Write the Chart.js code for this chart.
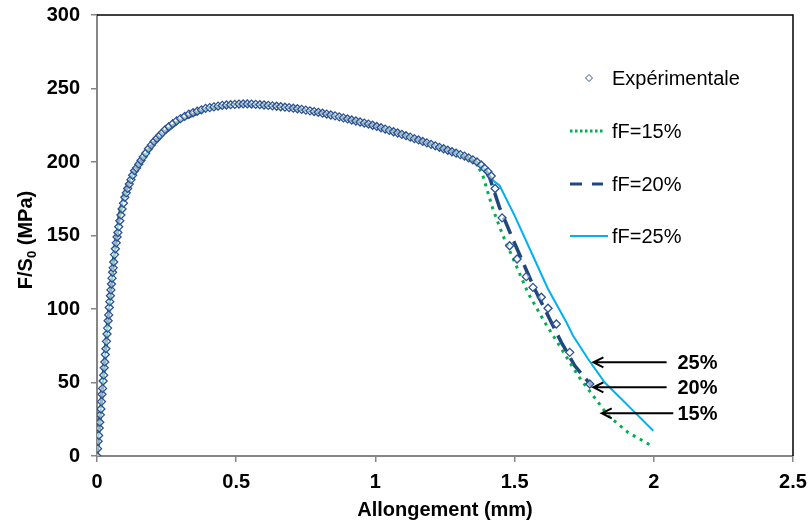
<!DOCTYPE html>
<html>
<head>
<meta charset="utf-8">
<script src="https://cdn.jsdelivr.net/npm/chart.js@4.4.1/dist/chart.umd.min.js"></script>
<style>
html, body { margin: 0; padding: 0; background: #fff; }
#wrap { width: 811px; height: 524px; }
</style>
</head>
<body>
<div id="wrap"><canvas id="myChart" width="811" height="524"></canvas></div>
<script>
// Experimental curve (elongation in mm, F/S0 in MPa)
const expX = [0, 0.002, 0.004, 0.006, 0.008, 0.010, 0.012, 0.014, 0.016, 0.018, 0.020, 0.022, 0.024, 0.026, 0.028,
    0.030, 0.032, 0.034, 0.036, 0.038, 0.040, 0.042, 0.044, 0.046, 0.048, 0.050, 0.052, 0.054, 0.056, 0.058,
    0.060, 0.063, 0.066, 0.069, 0.072, 0.075, 0.078, 0.082, 0.086, 0.090, 0.095, 0.100, 0.105, 0.110, 0.116,
    0.122, 0.128, 0.135, 0.142, 0.150, 0.158, 0.166, 0.175, 0.185, 0.195, 0.205, 0.215, 0.225, 0.235, 0.245,
    0.258, 0.272, 0.286, 0.300, 0.315, 0.330, 0.345, 0.360, 0.375, 0.390, 0.405, 0.420, 0.435, 0.450, 0.465,
    0.480, 0.495, 0.510, 0.525, 0.540, 0.555, 0.570, 0.585, 0.600, 0.615, 0.630, 0.645, 0.660, 0.675, 0.690,
    0.705, 0.720, 0.735, 0.750, 0.765, 0.780, 0.795, 0.810, 0.825, 0.840, 0.855, 0.870, 0.885, 0.900, 0.915,
    0.930, 0.945, 0.960, 0.975, 0.990, 1.005, 1.020, 1.035, 1.050, 1.065, 1.080, 1.095, 1.110, 1.125, 1.140,
    1.155, 1.170, 1.185, 1.200, 1.215, 1.230, 1.245, 1.260, 1.275, 1.290, 1.305, 1.320, 1.335, 1.350, 1.365,
    1.380, 1.392, 1.404, 1.416, 1.430, 1.455, 1.482, 1.509, 1.542, 1.566, 1.596, 1.620, 1.650, 1.698, 1.770];
const expY = [0, 5, 10, 14, 19, 23, 28, 32, 37, 42, 46, 51, 55, 60, 64,
    69, 73, 78, 83, 87, 92, 96, 101, 105, 109, 113, 117, 121, 125, 128,
    132, 137, 141, 145, 149, 152, 156, 160, 164, 168, 172, 176, 179, 182, 185,
    188, 191, 194, 196, 198.5, 201, 203.5, 206, 209, 211.5, 214, 216, 218, 220, 222,
    224, 226, 228, 229.5, 231, 232.5, 233.5, 234.5, 235.5, 236.5, 237, 237.5, 238, 238.5, 238.8,
    239, 239.2, 239.4, 239.5, 239.5, 239.4, 239.2, 239, 238.8, 238.5, 238.2, 237.9, 237.6, 237.3, 237,
    236.6, 236.2, 235.8, 235.3, 234.8, 234.3, 233.8, 233.2, 232.6, 232, 231.4, 230.7, 230, 229.3, 228.6,
    227.9, 227.2, 226.5, 225.8, 225, 224.2, 223.3, 222.4, 221.5, 220.6, 219.7, 218.8, 217.9, 216.9, 215.9,
    215, 214, 213, 212, 211, 210, 209, 208, 207, 206, 205, 204, 202.8, 201.5, 200,
    198, 195.8, 193.5, 190.5, 182, 162, 143, 134, 122, 114.7, 108, 100.5, 89.8, 70.5, 49];

// Model curves: common hardening part, then one softening branch per fF
const hardX = [0, 0.02, 0.04, 0.06, 0.08, 0.09, 0.10, 0.12, 0.15, 0.20, 0.25, 0.30, 0.40, 0.50, 0.60, 0.70, 0.80, 0.90, 1.00, 1.10, 1.20, 1.30, 1.36];
const hardY = [0, 48, 94, 134, 163, 172, 179, 189, 198.5, 212, 221, 228.5, 236.5, 239.3, 238.8, 236.8, 233.7, 229.3, 224.5, 218.8, 212, 205.5, 200];

const f15X = [1.386, 1.422, 1.458, 1.500, 1.548, 1.608, 1.668, 1.728, 1.800, 1.836, 1.908, 1.992];
const f15Y = [190.7, 168, 150, 132, 111, 91, 73, 54.6, 36.5, 27.4, 16, 7];
const f20X = [1.390, 1.410, 1.446, 1.488, 1.530, 1.572, 1.620, 1.668, 1.716, 1.776];
const f20Y = [196, 189.6, 169, 150, 131.7, 113.6, 95.5, 77.3, 61.4, 47.8];
const f25X = [1.400, 1.425, 1.446, 1.500, 1.560, 1.620, 1.686, 1.710, 1.764, 1.824, 1.872, 1.932, 1.998];
const f25Y = [194, 187, 184, 163.5, 138.6, 113.6, 91, 81.8, 66, 50, 41, 29.7, 17.2];

const seriesNames = ['Expérimentale', 'fF=15%', 'fF=20%', 'fF=25%'];

// Arrow annotations: label, y level, arrow head x, arrow tail x
const noteLabels = ['25%', '20%', '15%'];
const noteY = [63.7, 46.7, 29];
const noteHeadX = [1.783, 1.783, 1.813];
const noteTailX = [2.046, 2.046, 2.070];
const noteTextX = 2.085;

const xTicks = [0, 0.5, 1, 1.5, 2, 2.5];
const yTicks = [0, 50, 100, 150, 200, 250, 300];

function pts(xs, ys) {
    return xs.map((x, i) => ({ x: x, y: ys[i] }));
}

const FONT = '"Liberation Sans", Arial, sans-serif';
const GREEN = '#00B050';
const NAVY = '#1F497D';
const SKY = '#00B0F0';
const MARK = '#2A5291';
const AXIS = '#868686';

const extras = {
    id: 'extras',
    afterDraw(chart) {
        const ctx = chart.ctx;
        const a = chart.chartArea;
        const xs = chart.scales.x;
        const ys = chart.scales.y;
        ctx.save();

        // plot area border on top and right
        ctx.strokeStyle = '#000';
        ctx.lineWidth = 1.5;
        ctx.beginPath();
        ctx.moveTo(a.left, a.top);
        ctx.lineTo(a.right, a.top);
        ctx.lineTo(a.right, a.bottom);
        ctx.stroke();

        // axis titles
        ctx.fillStyle = '#000';
        ctx.font = 'bold 20px ' + FONT;
        ctx.textAlign = 'center';
        ctx.textBaseline = 'middle';
        ctx.fillText('Allongement (mm)', (a.left + a.right) / 2, 510);

        ctx.save();
        ctx.translate(26, 240);
        ctx.rotate(-Math.PI / 2);
        ctx.textAlign = 'left';
        const p1 = 'F/S', p2 = '0', p3 = ' (MPa)';
        ctx.font = 'bold 20px ' + FONT;
        const w1 = ctx.measureText(p1).width, w3 = ctx.measureText(p3).width;
        ctx.font = 'bold 13px ' + FONT;
        const w2 = ctx.measureText(p2).width;
        let x0 = -(w1 + w2 + w3) / 2;
        ctx.font = 'bold 20px ' + FONT;
        ctx.fillText(p1, x0, 0);
        ctx.font = 'bold 13px ' + FONT;
        ctx.fillText(p2, x0 + w1, 6);
        ctx.font = 'bold 20px ' + FONT;
        ctx.fillText(p3, x0 + w1 + w2, 0);
        ctx.restore();

        // legend
        const lgY = [78, 131, 184, 236];
        ctx.font = '20px ' + FONT;
        ctx.textAlign = 'left';
        ctx.textBaseline = 'middle';
        seriesNames.forEach((name, i) => {
            ctx.fillStyle = '#000';
            ctx.fillText(name, 612, lgY[i] + 1);
        });
        ctx.strokeStyle = MARK;
        ctx.fillStyle = '#fff';
        ctx.lineWidth = 1;
        ctx.beginPath();
        ctx.moveTo(589, lgY[0] - 3.5);
        ctx.lineTo(592.5, lgY[0]);
        ctx.lineTo(589, lgY[0] + 3.5);
        ctx.lineTo(585.5, lgY[0]);
        ctx.closePath();
        ctx.fill();
        ctx.stroke();

        const lg = [[GREEN, [2.5, 2.5], 3, 603], [NAVY, [12, 10], 3, 603], [SKY, [], 2, 608]];
        lg.forEach((s, i) => {
            ctx.strokeStyle = s[0];
            ctx.setLineDash(s[1]);
            ctx.lineWidth = s[2];
            ctx.beginPath();
            ctx.moveTo(570, lgY[i + 1]);
            ctx.lineTo(s[3], lgY[i + 1]);
            ctx.stroke();
        });
        ctx.setLineDash([]);

        // arrows with labels
        ctx.strokeStyle = '#000';
        ctx.fillStyle = '#000';
        ctx.lineWidth = 2;
        ctx.font = 'bold 20px ' + FONT;
        noteLabels.forEach((lab, i) => {
            const py = ys.getPixelForValue(noteY[i]);
            const hx = xs.getPixelForValue(noteHeadX[i]);
            const tx = xs.getPixelForValue(noteTailX[i]);
            ctx.beginPath();
            ctx.moveTo(tx, py);
            ctx.lineTo(hx, py);
            ctx.moveTo(hx + 10, py - 5);
            ctx.lineTo(hx, py);
            ctx.lineTo(hx + 10, py + 5);
            ctx.stroke();
            ctx.fillText(lab, xs.getPixelForValue(noteTextX), py + 1);
        });
        ctx.restore();
    }
};

const ctx = document.getElementById('myChart').getContext('2d');
const myChart = new Chart(ctx, {
    type: 'scatter',
    data: {
        datasets: [{
            label: seriesNames[0],
            data: pts(expX, expY),
            showLine: false,
            pointStyle: 'rectRot',
            pointRadius: 4,
            borderWidth: 1.3,
            borderColor: MARK,
            backgroundColor: 'rgba(255,255,255,0.55)'
        }, {
            label: seriesNames[1],
            data: pts(hardX.concat(f15X), hardY.concat(f15Y)),
            showLine: true,
            pointRadius: 0,
            borderColor: GREEN,
            borderWidth: 3,
            borderDash: [3, 5]
        }, {
            label: seriesNames[2],
            data: pts(hardX.concat(f20X), hardY.concat(f20Y)),
            showLine: true,
            pointRadius: 0,
            borderColor: NAVY,
            borderWidth: 3.5,
            borderDash: [18, 8]
        }, {
            label: seriesNames[3],
            data: pts(hardX.concat(f25X), hardY.concat(f25Y)),
            showLine: true,
            pointRadius: 0,
            borderColor: SKY,
            borderWidth: 2
        }]
    },
    options: {
        responsive: false,
        animation: false,
        devicePixelRatio: 1,
        layout: { padding: { left: 0, right: 18, top: 15, bottom: 0 } },
        plugins: {
            legend: { display: false },
            tooltip: { enabled: false }
        },
        scales: {
            x: {
                type: 'linear',
                min: 0,
                max: 2.5,
                afterBuildTicks: s => { s.ticks = xTicks.map(v => ({ value: v })); },
                afterFit: s => { s.height = 68; s.paddingLeft = 0; s.paddingRight = 0; },
                grid: { drawOnChartArea: false, drawTicks: true, tickLength: 6, color: AXIS, lineWidth: 1.5 },
                border: { color: AXIS, width: 2 },
                ticks: {
                    color: '#000', padding: 8,
                    font: { family: FONT, size: 20, weight: 'bold' },
                    callback: v => String(v)
                }
            },
            y: {
                type: 'linear',
                min: 0,
                max: 300,
                afterBuildTicks: s => { s.ticks = yTicks.map(v => ({ value: v })); },
                afterFit: s => { s.width = 97; s.paddingTop = 0; s.paddingBottom = 0; },
                grid: { drawOnChartArea: false, drawTicks: true, tickLength: 6, color: AXIS, lineWidth: 1.5 },
                border: { color: AXIS, width: 2 },
                ticks: {
                    color: '#000', padding: 11,
                    font: { family: FONT, size: 20, weight: 'bold' },
                    callback: v => String(v)
                }
            }
        }
    },
    plugins: [extras]
});
</script>
</body>
</html>
